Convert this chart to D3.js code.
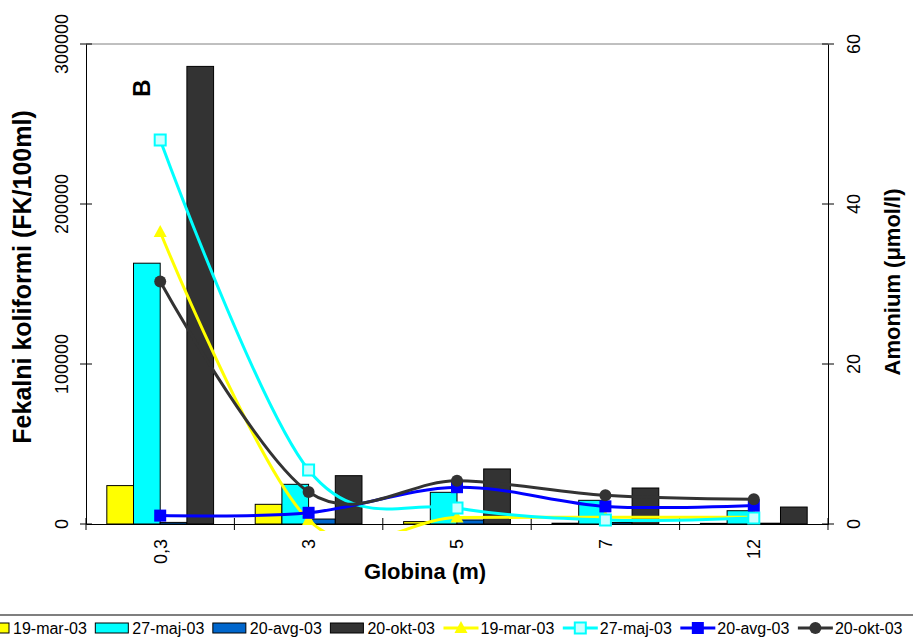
<!DOCTYPE html>
<html>
<head>
<meta charset="utf-8">
<script src="https://cdn.jsdelivr.net/npm/d3@7"></script>
<style>
  html, body { margin: 0; padding: 0; background: #fff; }
  svg { display: block; font-family: "Liberation Sans", Arial, sans-serif; }
</style>
</head>
<body>
<svg id="chart" width="913" height="638"></svg>
<script>
// ---- data ----
const categories = ["0,3", "3", "5", "7", "12"];
const seriesNames = ["19-mar-03", "27-maj-03", "20-avg-03", "20-okt-03"];
// Fekalni koliformi (FK/100ml) - bars, left axis
const fk19mar = [24000, 12300, 1500, 500, 400];
const fk27maj = [163000, 24800, 19800, 14800, 8300];
const fk20avg = [1000, 3100, 2500, 900, 500];
const fk20okt = [286000, 30200, 34400, 22500, 10600];
// Amonium (µmol/l) - lines, right axis
const am19mar = [36.5, 0.5, 0.8, 0.85, 0.85];
const am27maj = [48.0, 6.75, 2.0, 0.5, 0.75];
const am20avg = [1.05, 1.4, 4.6, 2.2, 2.3];
const am20okt = [30.3, 4.0, 5.4, 3.6, 3.1];
const leftTicks = [0, 100000, 200000, 300000];
const rightTicks = [0, 20, 40, 60];

const barColors = ["#FFFF00", "#00FFFF", "#0066CC", "#333333"];
const lineColors = ["#FFFF00", "#00FFFF", "#0000FF", "#333333"];
const markerTypes = ["triangle", "squareOpen", "square", "circle"];

const barData = [fk19mar, fk27maj, fk20avg, fk20okt];
const lineData = [am19mar, am27maj, am20avg, am20okt];

// ---- layout ----
const L = 86, R = 828, T = 44, B = 524;
const svg = d3.select("#chart");

const x = d3.scaleBand().domain(categories).range([L, R]).paddingInner(0).paddingOuter(0);
const xs = d3.scaleBand().domain(seriesNames).range([0, x.bandwidth()]).paddingInner(0).paddingOuter(0.78);
const yL = d3.scaleLinear().domain([0, 300000]).range([B, T]);
const yR = d3.scaleLinear().domain([0, 60]).range([B, T]);

// top frame line
svg.append("line").attr("x1", L).attr("x2", R).attr("y1", T).attr("y2", T)
  .attr("stroke", "#808080").attr("stroke-width", 1);

// bars
seriesNames.forEach((s, si) => {
  svg.append("g").selectAll("rect").data(barData[si]).join("rect")
    .attr("x", (d, i) => x(categories[i]) + xs(s))
    .attr("width", xs.bandwidth())
    .attr("y", d => yL(d))
    .attr("height", d => B - yL(d))
    .attr("fill", barColors[si])
    .attr("stroke", "#000").attr("stroke-width", 1);
});

// axes
const axL = svg.append("g").attr("transform", `translate(${L},0)`)
  .call(d3.axisLeft(yL).tickValues(leftTicks).tickSize(0).tickFormat(""));
axL.select(".domain").attr("stroke", "#000");
const axR = svg.append("g").attr("transform", `translate(${R},0)`)
  .call(d3.axisRight(yR).tickValues(rightTicks).tickSize(0).tickFormat(""));
axR.select(".domain").attr("stroke", "#000");
const axB = svg.append("g").attr("transform", `translate(0,${B})`)
  .call(d3.axisBottom(x).tickSize(0).tickFormat(""));
axB.select(".domain").attr("stroke", "#000");

// cross ticks
svg.append("g").selectAll("line").data(leftTicks).join("line")
  .attr("x1", L - 6).attr("x2", L + 6).attr("y1", d => yL(d)).attr("y2", d => yL(d))
  .attr("stroke", "#000");
svg.append("g").selectAll("line").data(rightTicks).join("line")
  .attr("x1", R - 6).attr("x2", R + 6).attr("y1", d => yR(d)).attr("y2", d => yR(d))
  .attr("stroke", "#000");
const bounds = categories.map(c => x(c)).concat([R]);
svg.append("g").selectAll("line").data(bounds).join("line")
  .attr("x1", d => d).attr("x2", d => d).attr("y1", B - 6).attr("y2", B + 6)
  .attr("stroke", "#000");

// tick labels
svg.append("g").selectAll("text").data(leftTicks).join("text")
  .attr("transform", d => `translate(62,${yL(d)}) rotate(-90)`)
  .attr("text-anchor", "middle").attr("dy", "0.35em")
  .attr("font-size", 18).text(d => d3.format("d")(d));
svg.append("g").selectAll("text").data(rightTicks).join("text")
  .attr("transform", d => `translate(854,${yR(d)}) rotate(-90)`)
  .attr("text-anchor", "middle").attr("dy", "0.35em")
  .attr("font-size", 18).text(d => d);
svg.append("g").selectAll("text").data(categories).join("text")
  .attr("transform", d => `translate(${x(d) + x.bandwidth() / 2},539) rotate(-90)`)
  .attr("text-anchor", "end").attr("dy", "0.35em")
  .attr("font-size", 18).text(d => d);

// axis titles
svg.append("text").attr("transform", "translate(22,277) rotate(-90)")
  .attr("text-anchor", "middle").attr("dy", "0.35em")
  .attr("font-size", 25).attr("font-weight", "bold").text("Fekalni koliformi (FK/100ml)");
svg.append("text").attr("transform", "translate(892,282) rotate(-90)")
  .attr("text-anchor", "middle").attr("dy", "0.35em")
  .attr("font-size", 22).attr("font-weight", "bold").text("Amonium (μmol/l)");
svg.append("text").attr("x", 425).attr("y", 579)
  .attr("text-anchor", "middle")
  .attr("font-size", 22).attr("font-weight", "bold").text("Globina (m)");
svg.append("text").attr("transform", "translate(142,88) rotate(-90)")
  .attr("text-anchor", "middle").attr("dy", "0.35em")
  .attr("font-size", 24).attr("font-weight", "bold").text("B");

// lines
svg.append("clipPath").attr("id", "clip").append("rect")
  .attr("x", L).attr("y", T - 10).attr("width", R - L).attr("height", 531 - (T - 10));

function drawMarker(g, type, color, cx, cy) {
  if (type === "triangle") {
    g.append("path").attr("d", `M${cx},${cy - 7}L${cx + 6.5},${cy + 5}L${cx - 6.5},${cy + 5}Z`)
      .attr("fill", color);
  } else if (type === "squareOpen") {
    g.append("rect").attr("x", cx - 5.5).attr("y", cy - 5.5).attr("width", 11).attr("height", 11)
      .attr("fill", "#CCFFFF").attr("stroke", color).attr("stroke-width", 2);
  } else if (type === "square") {
    g.append("rect").attr("x", cx - 6).attr("y", cy - 6).attr("width", 12).attr("height", 12)
      .attr("fill", color);
  } else {
    g.append("circle").attr("cx", cx).attr("cy", cy).attr("r", 6).attr("fill", color);
  }
}

const lineGen = d3.line()
  .x((d, i) => x(categories[i]) + x.bandwidth() / 2)
  .y(d => yR(d))
  .curve(d3.curveCardinal.tension(0));

seriesNames.forEach((s, si) => {
  const g = svg.append("g");
  g.append("path").attr("d", lineGen(lineData[si]))
    .attr("fill", "none").attr("stroke", lineColors[si]).attr("stroke-width", 3)
    .attr("clip-path", "url(#clip)");
  lineData[si].forEach((d, i) => {
    drawMarker(g, markerTypes[si], lineColors[si], x(categories[i]) + x.bandwidth() / 2, yR(d));
  });
});

// legend
svg.append("rect").attr("x", -10).attr("y", 615).attr("width", 935).attr("height", 40)
  .attr("fill", "#fff").attr("stroke", "#000").attr("stroke-width", 1);
let lx = -24;
const legItems = seriesNames.map((s, i) => ({ name: s, kind: "bar", i }))
  .concat(seriesNames.map((s, i) => ({ name: s, kind: "line", i })));
legItems.forEach(it => {
  const g = svg.append("g");
  if (it.kind === "bar") {
    g.append("rect").attr("x", lx).attr("y", 623).attr("width", 33).attr("height", 10)
      .attr("fill", barColors[it.i]).attr("stroke", "#000").attr("stroke-width", 1);
  } else {
    g.append("line").attr("x1", lx).attr("x2", lx + 35).attr("y1", 628).attr("y2", 628)
      .attr("stroke", lineColors[it.i]).attr("stroke-width", 3);
    drawMarker(g, markerTypes[it.i], lineColors[it.i], lx + 17.5, 628);
  }
  const t = g.append("text").attr("x", lx + 37).attr("y", 634)
    .attr("font-size", 16).text(it.name);
  lx += 37 + t.node().getComputedTextLength() + 8.5;
});
</script>
</body>
</html>
